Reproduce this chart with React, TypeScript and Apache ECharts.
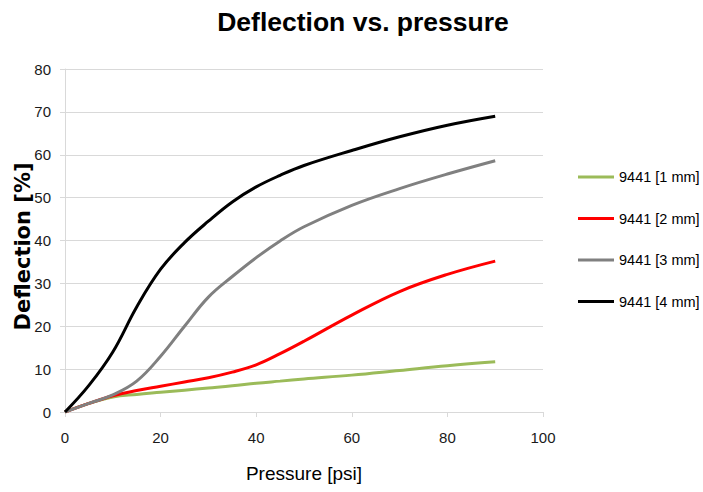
import React, { useEffect, useRef } from "react";
import * as echarts from "echarts";

const pressure = [0, 5, 10, 15, 20, 25, 30, 35, 40, 45, 50, 60, 70, 80, 90];
const mm1 = [0, 2, 3.5, 4.1, 4.6, 5.1, 5.6, 6.1, 6.7, 7.2, 7.7, 8.6, 9.7, 10.8, 11.7];
const mm2 = [0, 2, 3.8, 5.0, 6.0, 7.0, 8.0, 9.3, 11.0, 13.6, 16.5, 22.6, 28.1, 32.1, 35.2];
const mm3 = [0, 2, 4.0, 7.2, 13.0, 20.0, 26.8, 31.6, 36.0, 39.9, 43.2, 48.2, 52.1, 55.5, 58.6];
const mm4 = [0, 6.2, 14.0, 24.5, 33.3, 39.5, 44.5, 49.0, 52.5, 55.2, 57.5, 61.0, 64.2, 66.9, 69.0];

const seriesNames = ["9441 [1 mm]", "9441 [2 mm]", "9441 [3 mm]", "9441 [4 mm]"];
const seriesValues = [mm1, mm2, mm3, mm4];
const seriesColors = ["#9bbb59", "#ff0000", "#808080", "#000000"];

const xTicks = { min: 0, max: 100, interval: 20 };
const yTicks = { min: 0, max: 80, interval: 10 };

const sans = "'Liberation Sans', Arial, sans-serif";
const wide = "'DejaVu Sans', sans-serif";

export default function App() {
  const ref = useRef<HTMLDivElement>(null);
  useEffect(() => {
    if (!ref.current) return;
    const chart = echarts.init(ref.current, undefined, { renderer: "svg" });
    chart.setOption({
      animation: false,
      backgroundColor: "#ffffff",
      title: {
        text: "Deflection vs. pressure",
        left: 363,
        top: 8,
        padding: 0,
        textAlign: "center",
        textStyle: { fontFamily: sans, fontSize: 26.5, fontWeight: "bold", color: "#000" },
      },
      legend: {
        orient: "vertical",
        left: 578,
        top: 169,
        padding: 0,
        itemWidth: 36,
        itemHeight: 3,
        itemGap: 25.5,
        icon: "rect",
        textStyle: { fontFamily: sans, fontSize: 14.5, lineHeight: 16, color: "#000" },
        data: seriesNames,
      },
      grid: { left: 65, right: 160, top: 69, bottom: 80, containLabel: false },
      xAxis: {
        type: "value",
        min: xTicks.min,
        max: xTicks.max,
        interval: xTicks.interval,
        name: "Pressure [psi]",
        nameLocation: "middle",
        nameGap: 52,
        nameMoveOverlap: false,
        nameTextStyle: { fontFamily: sans, fontSize: 19, color: "#000" },
        axisLine: { show: true, lineStyle: { color: "#d9d9d9", width: 1 } },
        axisTick: { show: true, length: 5, lineStyle: { color: "#d9d9d9" } },
        axisLabel: { fontFamily: sans, fontSize: 15, color: "#1a1a1a", margin: 18 },
        splitLine: { show: false },
      },
      yAxis: {
        type: "value",
        min: yTicks.min,
        max: yTicks.max,
        interval: yTicks.interval,
        name: "Deflection [%]",
        nameLocation: "middle",
        nameGap: 32,
        nameMoveOverlap: false,
        nameTextStyle: {
          fontFamily: wide,
          fontSize: 21,
          fontWeight: "bold",
          color: "#000",
          padding: [0, 12, 0, 0],
        },
        axisLine: { show: true, lineStyle: { color: "#d9d9d9", width: 1 } },
        axisTick: { show: true, length: 5, lineStyle: { color: "#d9d9d9" } },
        axisLabel: { fontFamily: sans, fontSize: 15, color: "#1a1a1a", margin: 14 },
        splitLine: { show: true, lineStyle: { color: "#d9d9d9", width: 1 } },
      },
      series: seriesNames.map((name, i) => ({
        name,
        type: "line",
        smooth: 0.4,
        showSymbol: false,
        symbol: "none",
        lineStyle: { color: seriesColors[i], width: 3 },
        itemStyle: { color: seriesColors[i] },
        data: pressure.map((p, j) => [p, seriesValues[i][j]]),
        z: 2 + i,
      })),
    });
    return () => chart.dispose();
  }, []);
  return (
    <div
      ref={ref}
      style={{ position: "absolute", left: 0, top: 0, width: 703, height: 492 }}
    />
  );
}
